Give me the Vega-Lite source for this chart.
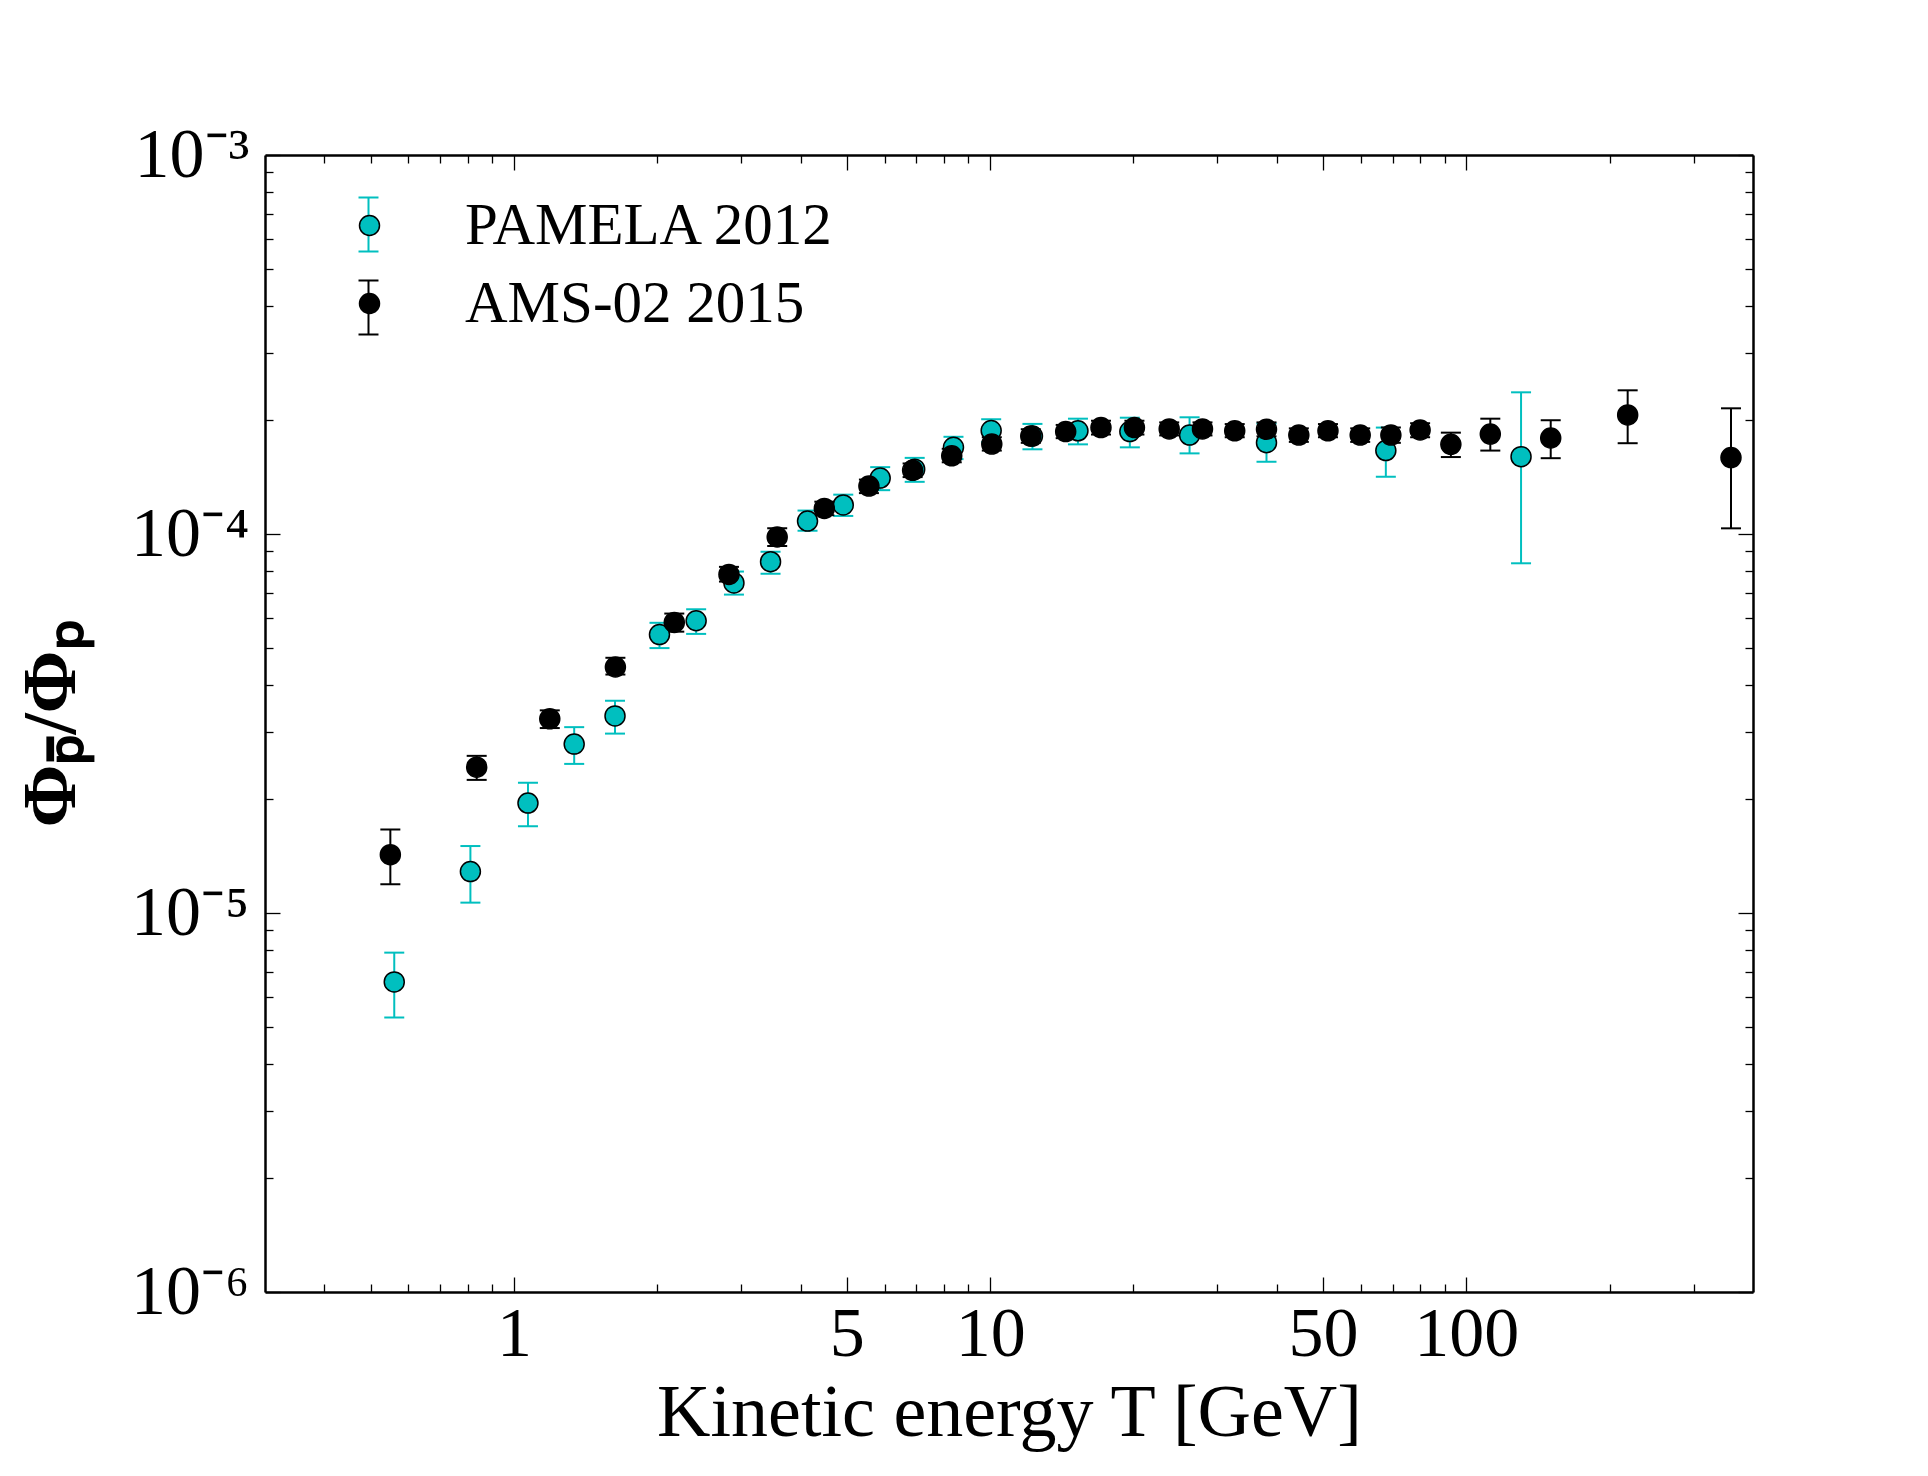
{
  "$schema": "https://vega.github.io/schema/vega-lite/v6.json",
  "width": 1488,
  "height": 1137,
  "autosize": {"type": "none"},
  "padding": {"left": 265, "top": 155, "right": 175, "bottom": 184},
  "background": "white",
  "config": {
    "font": "Liberation Serif",
    "view": {"stroke": null},
    "axis": {"grid": false, "domainColor": "black", "tickColor": "black", "labelColor": "black", "titleColor": "black", "labelFont": "Liberation Serif", "titleFont": "Liberation Serif", "tickWidth": 1.3, "domainWidth": 2.5}
  },
  "data": {
    "values": [
      {"series": "PAMELA 2012", "T": 0.5605, "R": 6.58e-6, "lo": 5.30e-6, "hi": 7.86e-6},
      {"series": "PAMELA 2012", "T": 0.810, "R": 1.286e-5, "lo": 1.065e-5, "hi": 1.502e-5},
      {"series": "PAMELA 2012", "T": 1.070, "R": 1.950e-5, "lo": 1.695e-5, "hi": 2.206e-5},
      {"series": "PAMELA 2012", "T": 1.338, "R": 2.790e-5, "lo": 2.474e-5, "hi": 3.093e-5},
      {"series": "PAMELA 2012", "T": 1.630, "R": 3.312e-5, "lo": 2.974e-5, "hi": 3.631e-5},
      {"series": "PAMELA 2012", "T": 2.021, "R": 5.427e-5, "lo": 5.00e-5, "hi": 5.83e-5},
      {"series": "PAMELA 2012", "T": 2.413, "R": 5.904e-5, "lo": 5.45e-5, "hi": 6.33e-5},
      {"series": "PAMELA 2012", "T": 2.897, "R": 7.43e-5, "lo": 6.92e-5, "hi": 7.96e-5},
      {"series": "PAMELA 2012", "T": 3.458, "R": 8.45e-5, "lo": 7.86e-5, "hi": 8.98e-5},
      {"series": "PAMELA 2012", "T": 4.135, "R": 1.082e-4, "lo": 1.020e-4, "hi": 1.153e-4},
      {"series": "PAMELA 2012", "T": 4.915, "R": 1.193e-4, "lo": 1.116e-4, "hi": 1.270e-4},
      {"series": "PAMELA 2012", "T": 5.876, "R": 1.405e-4, "lo": 1.305e-4, "hi": 1.501e-4},
      {"series": "PAMELA 2012", "T": 6.943, "R": 1.483e-4, "lo": 1.373e-4, "hi": 1.588e-4},
      {"series": "PAMELA 2012", "T": 8.375, "R": 1.693e-4, "lo": 1.576e-4, "hi": 1.805e-4},
      {"series": "PAMELA 2012", "T": 10.05, "R": 1.875e-4, "lo": 1.748e-4, "hi": 2.008e-4},
      {"series": "PAMELA 2012", "T": 12.27, "R": 1.813e-4, "lo": 1.673e-4, "hi": 1.952e-4},
      {"series": "PAMELA 2012", "T": 15.29, "R": 1.872e-4, "lo": 1.724e-4, "hi": 2.015e-4},
      {"series": "PAMELA 2012", "T": 19.65, "R": 1.863e-4, "lo": 1.693e-4, "hi": 2.027e-4},
      {"series": "PAMELA 2012", "T": 26.23, "R": 1.824e-4, "lo": 1.632e-4, "hi": 2.032e-4},
      {"series": "PAMELA 2012", "T": 38.05, "R": 1.742e-4, "lo": 1.551e-4, "hi": 1.956e-4},
      {"series": "PAMELA 2012", "T": 67.76, "R": 1.660e-4, "lo": 1.416e-4, "hi": 1.909e-4},
      {"series": "PAMELA 2012", "T": 130.3, "R": 1.600e-4, "lo": 8.37e-5, "hi": 2.365e-4},
      {"series": "AMS-02 2015", "T": 0.550, "R": 1.425e-5, "lo": 1.191e-5, "hi": 1.661e-5},
      {"series": "AMS-02 2015", "T": 0.835, "R": 2.425e-5, "lo": 2.245e-5, "hi": 2.598e-5},
      {"series": "AMS-02 2015", "T": 1.189, "R": 3.253e-5, "lo": 3.076e-5, "hi": 3.425e-5},
      {"series": "AMS-02 2015", "T": 1.633, "R": 4.457e-5, "lo": 4.258e-5, "hi": 4.714e-5},
      {"series": "AMS-02 2015", "T": 2.171, "R": 5.843e-5, "lo": 5.525e-5, "hi": 6.167e-5},
      {"series": "AMS-02 2015", "T": 2.828, "R": 7.82e-5, "lo": 7.49e-5, "hi": 8.19e-5},
      {"series": "AMS-02 2015", "T": 3.571, "R": 9.82e-5, "lo": 9.29e-5, "hi": 1.036e-4},
      {"series": "AMS-02 2015", "T": 4.485, "R": 1.168e-4, "lo": 1.121e-4, "hi": 1.217e-4},
      {"series": "AMS-02 2015", "T": 5.564, "R": 1.338e-4, "lo": 1.282e-4, "hi": 1.392e-4},
      {"series": "AMS-02 2015", "T": 6.873, "R": 1.472e-4, "lo": 1.413e-4, "hi": 1.535e-4},
      {"series": "AMS-02 2015", "T": 8.305, "R": 1.608e-4, "lo": 1.546e-4, "hi": 1.678e-4},
      {"series": "AMS-02 2015", "T": 10.08, "R": 1.727e-4, "lo": 1.660e-4, "hi": 1.800e-4},
      {"series": "AMS-02 2015", "T": 12.17, "R": 1.813e-4, "lo": 1.740e-4, "hi": 1.890e-4},
      {"series": "AMS-02 2015", "T": 14.41, "R": 1.863e-4, "lo": 1.790e-4, "hi": 1.940e-4},
      {"series": "AMS-02 2015", "T": 17.09, "R": 1.909e-4, "lo": 1.830e-4, "hi": 1.990e-4},
      {"series": "AMS-02 2015", "T": 20.09, "R": 1.909e-4, "lo": 1.830e-4, "hi": 1.990e-4},
      {"series": "AMS-02 2015", "T": 23.77, "R": 1.893e-4, "lo": 1.820e-4, "hi": 1.970e-4},
      {"series": "AMS-02 2015", "T": 27.92, "R": 1.893e-4, "lo": 1.820e-4, "hi": 1.970e-4},
      {"series": "AMS-02 2015", "T": 32.63, "R": 1.872e-4, "lo": 1.800e-4, "hi": 1.950e-4},
      {"series": "AMS-02 2015", "T": 38.05, "R": 1.889e-4, "lo": 1.810e-4, "hi": 1.970e-4},
      {"series": "AMS-02 2015", "T": 44.49, "R": 1.824e-4, "lo": 1.750e-4, "hi": 1.900e-4},
      {"series": "AMS-02 2015", "T": 51.22, "R": 1.872e-4, "lo": 1.800e-4, "hi": 1.950e-4},
      {"series": "AMS-02 2015", "T": 59.86, "R": 1.824e-4, "lo": 1.750e-4, "hi": 1.900e-4},
      {"series": "AMS-02 2015", "T": 69.43, "R": 1.824e-4, "lo": 1.740e-4, "hi": 1.910e-4},
      {"series": "AMS-02 2015", "T": 79.98, "R": 1.881e-4, "lo": 1.800e-4, "hi": 1.960e-4},
      {"series": "AMS-02 2015", "T": 92.8, "R": 1.724e-4, "lo": 1.596e-4, "hi": 1.851e-4},
      {"series": "AMS-02 2015", "T": 112.3, "R": 1.835e-4, "lo": 1.660e-4, "hi": 2.015e-4},
      {"series": "AMS-02 2015", "T": 150.4, "R": 1.792e-4, "lo": 1.585e-4, "hi": 1.996e-4},
      {"series": "AMS-02 2015", "T": 218.2, "R": 2.061e-4, "lo": 1.736e-4, "hi": 2.394e-4},
      {"series": "AMS-02 2015", "T": 359.6, "R": 1.591e-4, "lo": 1.035e-4, "hi": 2.146e-4}
    ]
  },
  "resolve": {"axis": {"x": "independent", "y": "independent"}},
  "layer": [
    {
      "mark": {"type": "rule", "strokeWidth": 2, "opacity": 1},
      "encoding": {
        "x": {"field": "T", "type": "quantitative", "scale": {"type": "log", "domain": [0.3, 400], "nice": false},
          "axis": {"orient": "bottom", "values": [1, 5, 10, 50, 100], "tickSize": -15, "labelFontSize": 70, "labelPadding": 23, "labelFlush": false, "labelOverlap": false, "labelExpr": "'' + datum.value", "title": "Kinetic energy T [GeV]", "titleFontSize": 74, "titleFontWeight": "normal", "titlePadding": 8}},
        "y": {"field": "lo", "type": "quantitative", "scale": {"type": "log", "domain": [1e-6, 1e-3], "nice": false},
          "axis": {"orient": "left", "values": [1e-6, 1e-5, 1e-4, 1e-3], "tickSize": -15, "labelFontSize": 70, "labelPadding": 31, "labelFlush": false, "labelOverlap": false, "labelExpr": "datum.value < 5e-6 ? '10⁻⁶' : datum.value < 5e-5 ? '10⁻⁵' : datum.value < 5e-4 ? '10⁻⁴' : '10⁻³'", "title": "Φₚ̄/Φₚ", "titleFontSize": 76, "titleFontWeight": "bold", "titlePadding": 40}},
        "y2": {"field": "hi"},
        "stroke": {"field": "series", "type": "nominal", "scale": {"domain": ["PAMELA 2012", "AMS-02 2015"], "range": ["#00BFBF", "#000000"]},
          "legend": {"orient": "none", "legendX": 75, "legendY": 41, "title": null, "padding": 0, "symbolType": "M0,-1L0,1M-0.37,-1L0.37,-1M-0.37,1L0.37,1", "symbolSize": 2916, "symbolStrokeWidth": 2, "symbolFillColor": "transparent", "labelFontSize": 57, "labelExpr": "''", "rowPadding": 20}}
      }
    },
    {
      "mark": {"type": "tick", "orient": "horizontal", "size": 20, "thickness": 2, "opacity": 1},
      "encoding": {
        "x": {"field": "T", "type": "quantitative", "scale": {"type": "log", "domain": [0.3, 400], "nice": false},
          "axis": {"orient": "bottom", "values": [0.4, 0.5, 0.6, 0.7, 0.8, 0.9, 2, 3, 4, 6, 7, 8, 9, 20, 30, 40, 60, 70, 80, 90, 200, 300], "tickSize": -8, "labels": false, "domain": false, "title": null}},
        "y": {"field": "lo", "type": "quantitative", "scale": {"type": "log", "domain": [1e-6, 1e-3], "nice": false},
          "axis": {"orient": "left", "values": [2e-6, 3e-6, 4e-6, 5e-6, 6e-6, 7e-6, 8e-6, 9e-6, 2e-5, 3e-5, 4e-5, 5e-5, 6e-5, 7e-5, 8e-5, 9e-5, 2e-4, 3e-4, 4e-4, 5e-4, 6e-4, 7e-4, 8e-4, 9e-4], "tickSize": -8, "labels": false, "domain": false, "title": null}},
        "fill": {"field": "series", "type": "nominal", "sort": null, "scale": {"range": ["#00BFBF", "#000000"]}}
      }
    },
    {
      "mark": {"type": "tick", "orient": "horizontal", "size": 20, "thickness": 2, "opacity": 1},
      "encoding": {
        "x": {"field": "T", "type": "quantitative", "scale": {"type": "log", "domain": [0.3, 400], "nice": false},
          "axis": {"orient": "top", "values": [1, 5, 10, 50, 100], "tickSize": -15, "labels": false, "title": null}},
        "y": {"field": "hi", "type": "quantitative", "scale": {"type": "log", "domain": [1e-6, 1e-3], "nice": false},
          "axis": {"orient": "right", "values": [1e-6, 1e-5, 1e-4, 1e-3], "tickSize": -15, "labels": false, "title": null}},
        "fill": {"field": "series", "type": "nominal", "sort": null, "scale": {"range": ["#00BFBF", "#000000"]}}
      }
    },
    {
      "mark": {"type": "circle", "size": 400, "stroke": "black", "strokeWidth": 1.5, "opacity": 1},
      "encoding": {
        "x": {"field": "T", "type": "quantitative", "scale": {"type": "log", "domain": [0.3, 400], "nice": false},
          "axis": {"orient": "top", "values": [0.4, 0.5, 0.6, 0.7, 0.8, 0.9, 2, 3, 4, 6, 7, 8, 9, 20, 30, 40, 60, 70, 80, 90, 200, 300], "tickSize": -8, "labels": false, "domain": false, "title": null}},
        "y": {"field": "R", "type": "quantitative", "scale": {"type": "log", "domain": [1e-6, 1e-3], "nice": false},
          "axis": {"orient": "right", "values": [2e-6, 3e-6, 4e-6, 5e-6, 6e-6, 7e-6, 8e-6, 9e-6, 2e-5, 3e-5, 4e-5, 5e-5, 6e-5, 7e-5, 8e-5, 9e-5, 2e-4, 3e-4, 4e-4, 5e-4, 6e-4, 7e-4, 8e-4, 9e-4], "tickSize": -8, "labels": false, "domain": false, "title": null}},
        "fill": {"field": "series", "type": "nominal", "sort": null, "scale": {"range": ["#00BFBF", "#000000"]},
          "legend": {"orient": "none", "legendX": 75, "legendY": 41, "title": null, "padding": 0, "symbolType": "circle", "symbolSize": 400, "symbolStrokeColor": "black", "symbolStrokeWidth": 1.5, "symbolOpacity": 1, "labelFont": "Liberation Serif", "labelFontSize": 59, "labelColor": "black", "labelLimit": 0, "labelOffset": 66, "rowPadding": 18}}
      }
    }
  ]
}
